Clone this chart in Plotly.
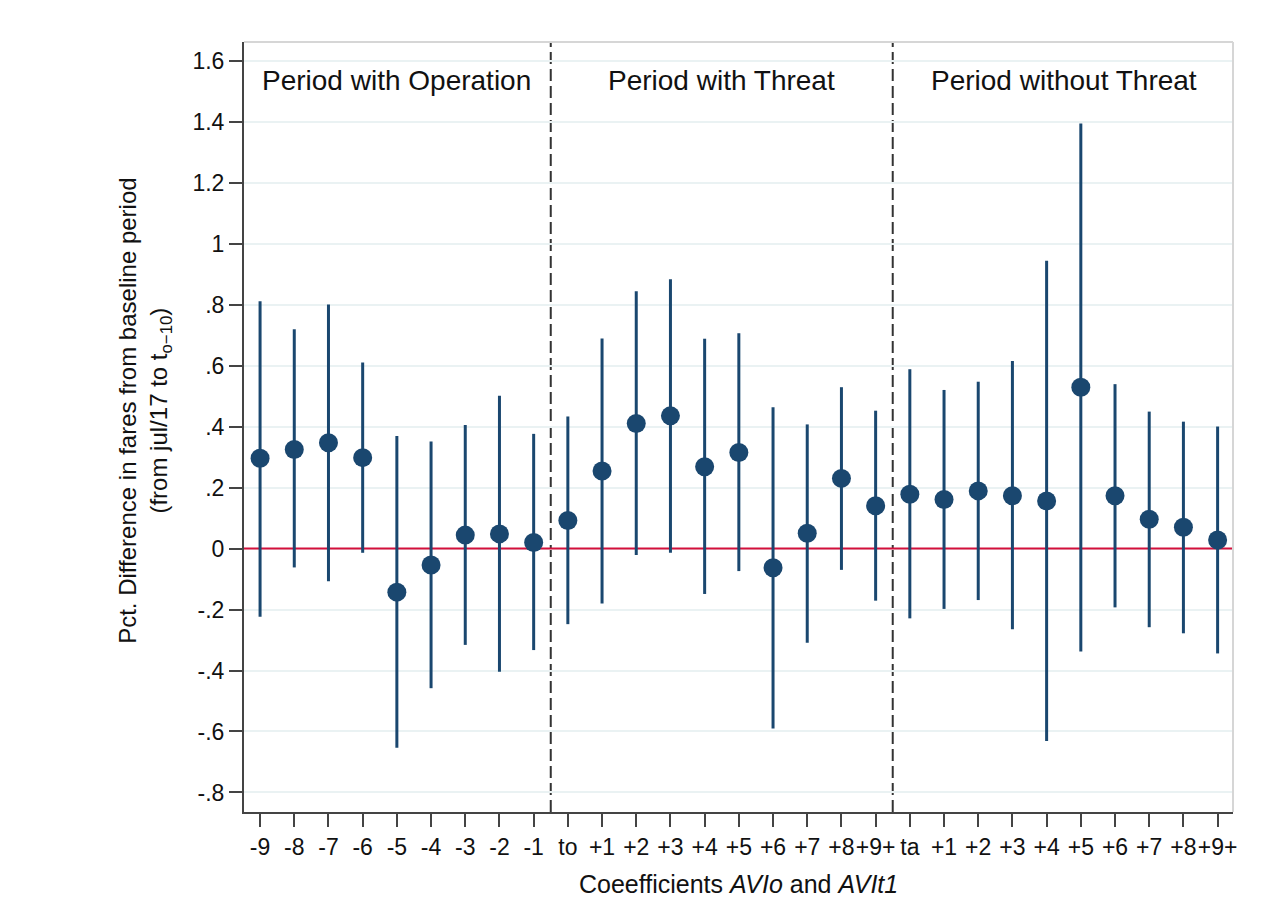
import plotly.graph_objects as go

# Event-time coefficients: operation leads (-9..-1), threat period (to..+9+),
# post-threat period (ta..+9+)
tick_labels = ["-9", "-8", "-7", "-6", "-5", "-4", "-3", "-2", "-1",
               "to", "+1", "+2", "+3", "+4", "+5", "+6", "+7", "+8", "+9+",
               "ta", "+1", "+2", "+3", "+4", "+5", "+6", "+7", "+8", "+9+"]

coef = [0.296, 0.325, 0.347, 0.298, -0.143, -0.054, 0.044, 0.048, 0.020,
        0.092, 0.254, 0.410, 0.435, 0.268, 0.315, -0.063, 0.050, 0.230, 0.140,
        0.178, 0.161, 0.189, 0.173, 0.156, 0.529, 0.173, 0.096, 0.070, 0.028]

ci_high = [0.811, 0.719, 0.800, 0.610, 0.369, 0.351, 0.405, 0.501, 0.376,
           0.433, 0.689, 0.844, 0.883, 0.688, 0.706, 0.463, 0.407, 0.529, 0.452,
           0.588, 0.520, 0.547, 0.615, 0.944, 1.394, 0.539, 0.449, 0.416, 0.400]

ci_low = [-0.224, -0.062, -0.107, -0.014, -0.653, -0.458, -0.316, -0.404, -0.333,
          -0.248, -0.180, -0.021, -0.014, -0.149, -0.074, -0.590, -0.309, -0.070, -0.171,
          -0.229, -0.198, -0.169, -0.265, -0.631, -0.338, -0.193, -0.258, -0.278, -0.344]

period_names = ["Period with Operation", "Period with Threat", "Period without Threat"]
period_sizes = [9, 10, 10]

y_tick_vals = [-0.8, -0.6, -0.4, -0.2, 0, 0.2, 0.4, 0.6, 0.8, 1.0, 1.2, 1.4, 1.6]
y_tick_text = ["-.8", "-.6", "-.4", "-.2", "0", ".2", ".4", ".6", ".8", "1", "1.2", "1.4", "1.6"]

FONT = "Liberation Sans, Arial, sans-serif"
NAVY = "#1a476f"

x = list(range(len(coef)))
err_plus = [h - c for h, c in zip(ci_high, coef)]
err_minus = [c - l for c, l in zip(coef, ci_low)]

# period boundaries and label centres derived from the segment sizes
breaks, centers, start = [], [], 0
for n in period_sizes:
    centers.append(start + (n - 1) / 2)
    start += n
    breaks.append(start - 0.5)
breaks = breaks[:-1]

X_RANGE = [-0.47, 28.45]
Y_RANGE = [-0.864, 1.661]

fig = go.Figure()
fig.add_trace(go.Scatter(
    x=x, y=coef, mode="markers",
    marker=dict(size=19, color=NAVY, line=dict(width=0)),
    error_y=dict(type="data", symmetric=False, array=err_plus, arrayminus=err_minus,
                 color=NAVY, thickness=3, width=0),
    showlegend=False, hoverinfo="skip",
))

shapes = []
# zero reference line
shapes.append(dict(type="line", xref="x", yref="y", x0=X_RANGE[0], x1=X_RANGE[1], y0=0, y1=0,
                   line=dict(color="#d3103c", width=2), layer="between"))
# period separators
for b in breaks:
    shapes.append(dict(type="line", xref="x", yref="paper", x0=b, x1=b, y0=0, y1=1,
                       line=dict(color="#333333", width=2, dash="12px,5px"), layer="between"))
# light frame on top and right
shapes.append(dict(type="line", xref="paper", yref="paper", x0=0, x1=1, y0=1, y1=1,
                   line=dict(color="#d6d6d6", width=2)))
shapes.append(dict(type="line", xref="paper", yref="paper", x0=1, x1=1, y0=0, y1=1,
                   line=dict(color="#d6d6d6", width=2)))

annotations = []
for name, c in zip(period_names, centers):
    annotations.append(dict(x=c, y=1.535, xref="x", yref="y", text=name, showarrow=False,
                            xanchor="center", yanchor="middle",
                            font=dict(family=FONT, size=28, color="#111111")))

annotations.append(dict(
    x=-0.1001, y=0.521, xref="paper", yref="paper", textangle=-90, showarrow=False,
    xanchor="center", yanchor="middle", align="center",
    text="Pct. Difference in fares from baseline period<br>(from jul/17 to t<sub>o\u221210</sub>)",
    font=dict(family=FONT, size=24, color="#111111")))

annotations.append(dict(
    x=0.5, y=-0.094, xref="paper", yref="paper", showarrow=False,
    xanchor="center", yanchor="middle",
    text="Coeefficients <i>AVIo</i> and <i>AVIt1</i>",
    font=dict(family=FONT, size=25, color="#111111")))

fig.update_layout(
    width=1265, height=917,
    margin=dict(l=244, r=32, t=42, b=105),
    paper_bgcolor="white", plot_bgcolor="white",
    font=dict(family=FONT, size=23, color="#111111"),
    shapes=shapes, annotations=annotations,
    xaxis=dict(range=X_RANGE, tickmode="array", tickvals=x, ticktext=tick_labels,
               tickangle=0, showgrid=False, zeroline=False, showline=True,
               linecolor="#444444", linewidth=2,
               ticks="outside", ticklen=13, tickwidth=2, tickcolor="#444444",
               tickfont=dict(family=FONT, size=23, color="#111111")),
    yaxis=dict(range=Y_RANGE, tickmode="array", tickvals=y_tick_vals, ticktext=y_tick_text,
               showgrid=True, gridcolor="#eaf2f3", gridwidth=2, zeroline=False,
               showline=True, linecolor="#444444", linewidth=2,
               ticks="outside", ticklen=13, tickwidth=2, tickcolor="#444444",
               tickfont=dict(family=FONT, size=23, color="#111111")),
)

fig.write_html("out.html")
